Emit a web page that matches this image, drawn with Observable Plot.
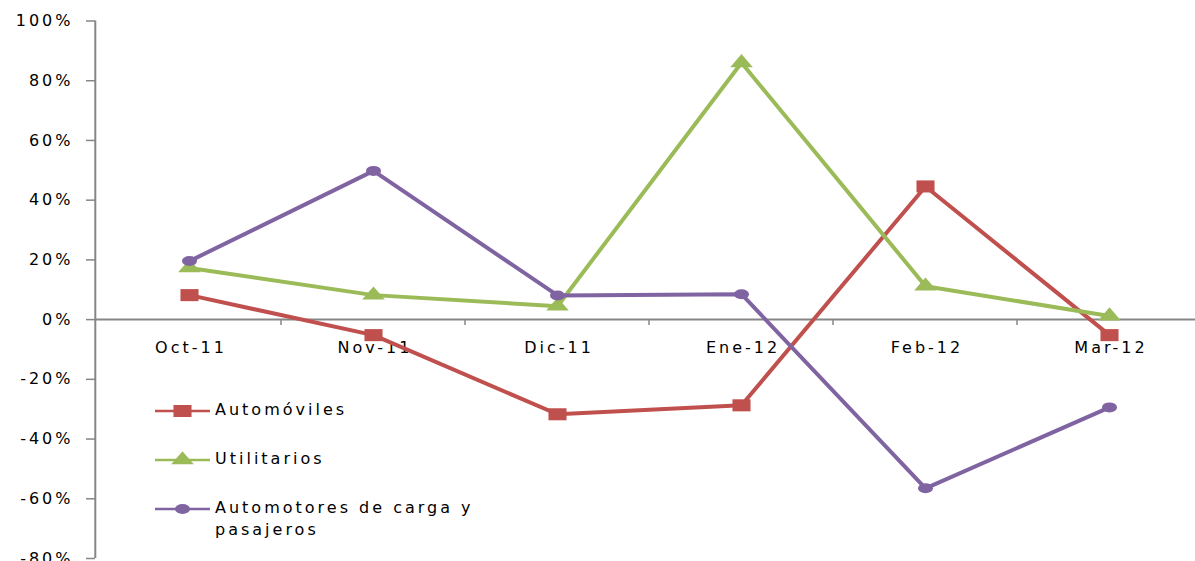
<!DOCTYPE html>
<html>
<head>
<meta charset="utf-8">
<script src="https://cdn.jsdelivr.net/npm/d3@7"></script>
<script src="https://cdn.jsdelivr.net/npm/@observablehq/plot@0.6"></script>
<style>
  html, body { margin: 0; padding: 0; background: #fff; overflow: hidden; }
  #wrap { position: relative; width: 1195px; height: 561px; font-family: "DejaVu Sans", sans-serif; }
  #legend { position: absolute; left: 155px; top: 399px; font-size: 16px; letter-spacing: 3px; color: #000; }
  .row { display: flex; align-items: flex-start; height: 49px; }
  .row svg { flex: none; margin-top: 3px; }
  .row span { margin-left: 5px; line-height: 22px; }
</style>
</head>
<body>
<div id="wrap"><div id="legend"></div></div>
<script>
const categories = ["Oct-11", "Nov-11", "Dic-11", "Ene-12", "Feb-12", "Mar-12"];
const automoviles = [0.082, -0.052, -0.317, -0.287, 0.446, -0.052];
const utilitarios = [0.173, 0.082, 0.045, 0.86, 0.112, 0.012];
const automotores = [0.196, 0.498, 0.081, 0.085, -0.565, -0.294];
const seriesNames = ["Automóviles", "Utilitarios", "Automotores de carga y pasajeros"];
const seriesColors = ["#C0504D", "#9BBB59", "#8064A2"];
const seriesSymbols = ["square", "triangle", "circle"];
const markerSizes = [6.8, 5.6, 5];
const yTicks = [-0.8, -0.6, -0.4, -0.2, 0, 0.2, 0.4, 0.6, 0.8, 1.0];

const seriesValues = [automoviles, utilitarios, automotores];
const data = seriesNames.flatMap((s, i) => categories.map((c, j) => ({series: s, cat: c, value: seriesValues[i][j], size: markerSizes[i]})));

const font = "DejaVu Sans, sans-serif";
const plot = Plot.plot({
  width: 1195,
  height: 561,
  marginLeft: 95,
  marginRight: 0,
  marginTop: 20,
  marginBottom: 3,
  style: {fontFamily: font, fontSize: "16px", letterSpacing: "3px", color: "#000", background: "#fff", overflow: "hidden"},
  x: {type: "point", domain: categories, range: [95.3, 1203.5], padding: 0.5, axis: null},
  y: {domain: [-0.8, 1], range: [558, 20.5], axis: null},
  r: {type: "identity"},
  color: {domain: seriesNames, range: seriesColors},
  symbol: {domain: seriesNames, range: seriesSymbols},
  marks: [
    Plot.ruleY([0], {stroke: "#868686", strokeWidth: 2}),
    Plot.axisY({ticks: yTicks, tickFormat: d => Math.round(d * 100) + "%", tickSize: 9, tickPadding: 13, stroke: "#868686", strokeWidth: 1.5, fill: "#000", fontSize: 16, label: null}),
    Plot.text(categories, {x: d => d, y: () => 0, dy: 28, dx: 1.5, fill: "#000", fontSize: 16}),
    Plot.line(data, {x: "cat", y: "value", z: "series", stroke: "series", strokeWidth: 4, strokeLinejoin: "round"}),
    Plot.dot(data, {x: "cat", y: "value", fill: "series", symbol: "series", r: "size"})
  ]
});

document.getElementById("wrap").prepend(plot);

// axis decorations derived from the scales
const xs = plot.scale("x"), ys = plot.scale("y");
const step = xs.apply(categories[1]) - xs.apply(categories[0]);
const y0 = ys.apply(0);
const svg = d3.select(plot);
const deco = svg.append("g").attr("stroke", "#868686");
deco.append("line").attr("x1", xs.range[0]).attr("x2", xs.range[0]).attr("y1", ys.range[1]).attr("y2", ys.range[0]).attr("stroke-width", 2);
categories.slice(1).forEach(c => {
  const x = xs.apply(c) - step / 2;
  deco.append("line").attr("x1", x).attr("x2", x).attr("y1", y0).attr("y2", y0 + 6).attr("stroke-width", 1.5);
});

// stretch markers horizontally like the reference
svg.selectAll("g[aria-label=dot] path").each(function() {
  const t = this.getAttribute("transform") || "";
  this.setAttribute("transform", t + " scale(1.5,1)");
});
svg.select("g[aria-label=dot]").raise();

// legend
const legend = d3.select("#legend");
seriesNames.forEach((s, i) => {
  const row = legend.append("div").attr("class", "row");
  const sv = row.append("svg").attr("width", 55).attr("height", 18);
  sv.append("line").attr("x1", 0).attr("x2", 55).attr("y1", 9).attr("y2", 9).attr("stroke", seriesColors[i]).attr("stroke-width", 2.5);
  const sym = {square: d3.symbolSquare, triangle: d3.symbolTriangle, circle: d3.symbolCircle}[seriesSymbols[i]];
  const r = markerSizes[i];
  sv.append("path").attr("d", d3.symbol(sym, r * r * Math.PI)()).attr("fill", seriesColors[i]).attr("transform", "translate(27.5,9) scale(1.5,1)");
  const words = s === seriesNames[2] ? "Automotores de carga y<br>pasajeros" : s;
  row.append("span").html(words);
});
</script>
</body>
</html>
